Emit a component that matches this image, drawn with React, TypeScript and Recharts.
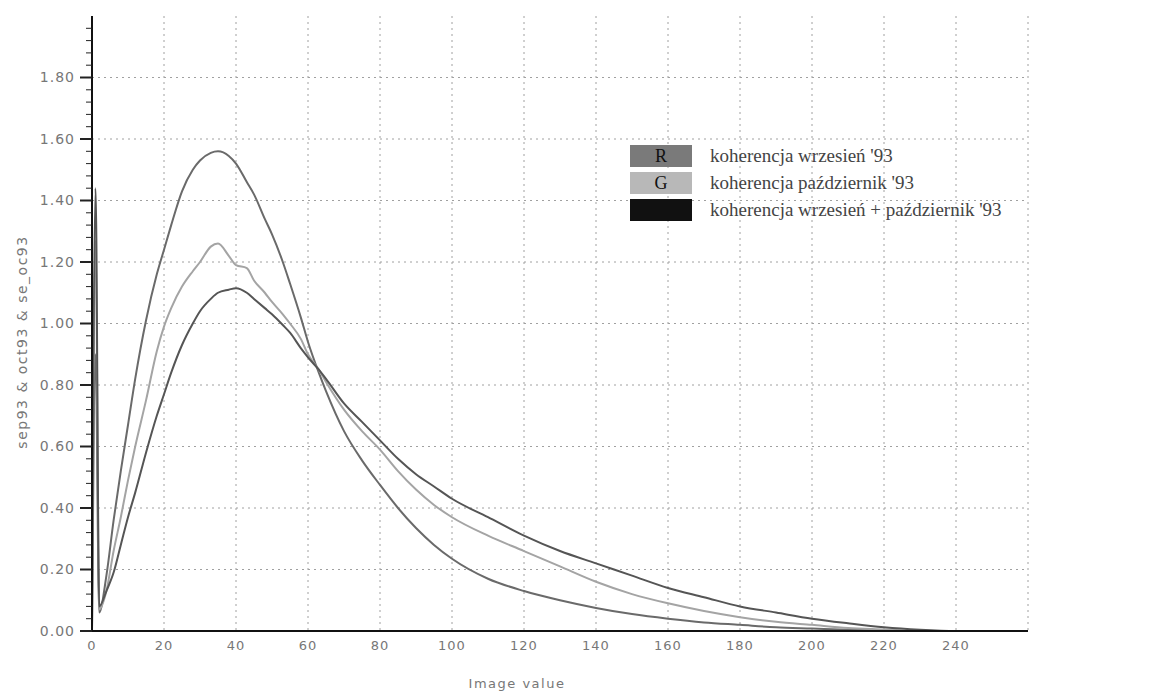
import { CartesianGrid, Line, LineChart, XAxis, YAxis } from "recharts";

// wartości obrazu (oś X)
const imageValues = [
  0, 1, 2, 4, 6, 8, 10, 12, 15, 18, 20, 22, 25, 28, 30, 33, 35, 38, 40, 43, 45, 48, 50, 53, 55, 58, 60, 63, 65, 70,
  75, 80, 85, 90, 95, 100, 110, 120, 130, 140, 150, 160, 170, 180, 190, 200, 210, 220, 230, 240, 250,
];

// koherencja wrzesień '93
const sep93 = [
  0, 0.9, 0.06, 0.18, 0.36, 0.52, 0.67, 0.82, 1.01, 1.16, 1.24, 1.32, 1.43, 1.5, 1.53, 1.555, 1.56, 1.545, 1.52, 1.46,
  1.42, 1.34, 1.29, 1.2, 1.13, 1.02, 0.94, 0.84, 0.78, 0.65, 0.555, 0.475, 0.4, 0.335, 0.28, 0.235, 0.17, 0.13, 0.1,
  0.075, 0.055, 0.04, 0.028, 0.02, 0.012, 0.008, 0.004, 0.002, 0, 0, 0,
];

// koherencja październik '93
const oct93 = [
  0, 1.27, 0.07, 0.13, 0.26, 0.37, 0.49, 0.6, 0.75, 0.91, 0.99, 1.05, 1.12, 1.17, 1.2, 1.25, 1.26, 1.22, 1.19, 1.18,
  1.14, 1.1, 1.07, 1.03, 1.0, 0.95, 0.9, 0.85, 0.81, 0.72, 0.65, 0.59, 0.52, 0.46, 0.41, 0.37, 0.31, 0.26, 0.21, 0.16,
  0.12, 0.09, 0.065, 0.045, 0.03, 0.02, 0.01, 0.005, 0, 0, 0,
];

// koherencja wrzesień + październik '93
const seOc93 = [
  0, 1.44, 0.08, 0.13, 0.19, 0.28, 0.37, 0.45, 0.58, 0.7, 0.77, 0.84, 0.93, 1.0, 1.04, 1.08, 1.1, 1.11, 1.115, 1.1,
  1.08, 1.05, 1.03, 0.995, 0.97, 0.92, 0.89, 0.85, 0.82, 0.74, 0.68, 0.62, 0.56, 0.51, 0.47, 0.43, 0.37, 0.31, 0.26,
  0.22, 0.18, 0.14, 0.11, 0.08, 0.06, 0.04, 0.025, 0.012, 0.004, 0, 0,
];

const xTicks = [0, 20, 40, 60, 80, 100, 120, 140, 160, 180, 200, 220, 240];
const yTicks = Array.from({ length: 50 }, (_, i) => Math.round(i * 4) / 100);

const legendItems = [
  { key: "R", label: "koherencja wrzesień '93", color: "#7a7a7a" },
  { key: "G", label: "koherencja październik '93", color: "#b8b8b8" },
  { key: "", label: "koherencja wrzesień + październik '93", color: "#111111" },
];

const data = imageValues.map((x, i) => ({ x, sep93: sep93[i], oct93: oct93[i], seOc93: seOc93[i] }));

const axisFont = "'DejaVu Sans', sans-serif";

const YTick = (props: any) => {
  const { x, y, payload } = props;
  const v = payload.value as number;
  const major = Math.abs(v * 5 - Math.round(v * 5)) < 0.001;
  return (
    <g>
      <line x1={x - (major ? 12 : 6)} x2={x} y1={y} y2={y} stroke="#222" strokeWidth={major ? 2 : 1} />
      {major && (
        <text
          x={x - 17}
          y={y}
          dy="0.35em"
          textAnchor="end"
          fontSize={14}
          letterSpacing={1}
          fill="#777"
          fontFamily={axisFont}
        >
          {v.toFixed(2)}
        </text>
      )}
    </g>
  );
};

const LegendBox = () => (
  <div
    style={{
      position: "absolute",
      left: 630,
      top: 142,
      fontFamily: "'Liberation Serif', serif",
      color: "#444",
      fontSize: 19,
    }}
  >
    {legendItems.map((item) => (
      <div key={item.label} style={{ display: "flex", alignItems: "center", height: 27, whiteSpace: "nowrap" }}>
        <div
          style={{
            width: 62,
            height: 22,
            background: item.color,
            color: "#111",
            textAlign: "center",
            lineHeight: "22px",
            fontSize: 18,
            marginRight: 18,
          }}
        >
          {item.key}
        </div>
        <span>{item.label}</span>
      </div>
    ))}
  </div>
);

export default function App() {
  return (
    <div style={{ position: "absolute", left: 0, top: 0, width: 1163, height: 693, background: "#fff" }}>
      <LineChart width={1163} height={693} data={data} margin={{ top: 16, right: 135, bottom: 2, left: 2 }}>
        <CartesianGrid stroke="#a0a0a0" strokeDasharray="2 4" horizontalValues={[0.2, 0.4, 0.6, 0.8, 1.0, 1.2, 1.4, 1.6, 1.8]} />
        <XAxis
          dataKey="x"
          type="number"
          domain={[0, 260]}
          ticks={xTicks}
          height={60}
          tickSize={0}
          tickMargin={10}
          axisLine={{ stroke: "#111", strokeWidth: 2 }}
          tick={{ fontSize: 13, fill: "#777", fontFamily: axisFont, letterSpacing: 1 }}
        />
        <YAxis
          type="number"
          domain={[0, 2]}
          ticks={yTicks}
          width={90}
          tickSize={0}
          tickMargin={0}
          interval={0}
          axisLine={{ stroke: "#111", strokeWidth: 2 }}
          tick={<YTick />}
        />
        <Line type="monotone" dataKey="sep93" stroke="#6a6a6a" strokeWidth={2} dot={false} isAnimationActive={false} />
        <Line type="monotone" dataKey="oct93" stroke="#a4a4a4" strokeWidth={2} dot={false} isAnimationActive={false} />
        <Line type="monotone" dataKey="seOc93" stroke="#555555" strokeWidth={2} dot={false} isAnimationActive={false} />
      </LineChart>
      <LegendBox />
      <div
        style={{
          position: "absolute",
          left: 22,
          top: 342,
          transform: "translate(-50%, -50%) rotate(-90deg)",
          whiteSpace: "nowrap",
          fontSize: 14,
          letterSpacing: 1.5,
          color: "#777",
          fontFamily: axisFont,
        }}
      >
        sep93 &amp; oct93 &amp; se_oc93
      </div>
      <div
        style={{
          position: "absolute",
          left: 517,
          top: 683,
          transform: "translate(-50%, -50%)",
          whiteSpace: "nowrap",
          fontSize: 13,
          letterSpacing: 1.5,
          color: "#777",
          fontFamily: axisFont,
        }}
      >
        Image value
      </div>
    </div>
  );
}
